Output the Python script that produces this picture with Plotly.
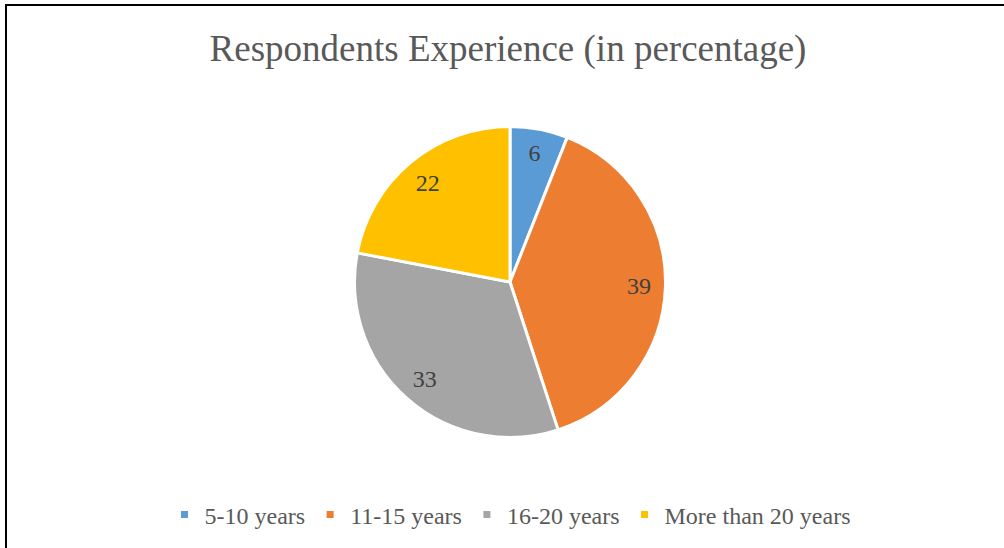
import plotly.graph_objects as go

# Respondents' years of experience, in percent
categories = ["5-10 years", "11-15 years", "16-20 years", "More than 20 years"]
shares = [6, 39, 33, 22]
colors = ["#5B9BD5", "#ED7D31", "#A5A5A5", "#FFC000"]

W, H = 1004, 548
serif = "Liberation Serif"

# pie centre and radius in pixels
cx, cy, r = 510, 282, 155.5
pie_domain = dict(x=[(cx - r) / W, (cx + r) / W],
                  y=[1 - (cy + r) / H, 1 - (cy - r) / H])

fig = go.Figure()
fig.add_trace(go.Pie(
    labels=categories,
    values=shares,
    sort=False,
    direction="clockwise",
    rotation=0,
    marker=dict(colors=colors, line=dict(color="white", width=3)),
    textinfo="none",
    showlegend=False,
    hoverinfo="label+value",
    domain=pie_domain,
))

# value labels sit in an outer ring of the same pie
fig.add_trace(go.Pie(
    labels=categories,
    values=shares,
    sort=False,
    direction="clockwise",
    rotation=0,
    hole=0.66,
    marker=dict(colors=["rgba(0,0,0,0)"] * len(shares), line=dict(width=0)),
    textinfo="value",
    textposition="inside",
    insidetextorientation="horizontal",
    textfont=dict(family=serif, size=24, color="#404040"),
    showlegend=False,
    hoverinfo="skip",
    domain=pie_domain,
))

# legend entries with small square keys
for name, col in zip(categories, colors):
    fig.add_trace(go.Scatter(
        x=[None], y=[None], mode="markers", name=name,
        marker=dict(symbol="square", size=7, color=col, line=dict(width=0)),
    ))

fig.update_layout(
    width=W, height=H,
    margin=dict(l=0, r=0, t=0, b=0),
    paper_bgcolor="white", plot_bgcolor="white",
    xaxis=dict(visible=False), yaxis=dict(visible=False),
    title=dict(text="Respondents Experience (in percentage)",
               x=508 / W, xanchor="center", y=1 - 48 / H, yanchor="middle",
               font=dict(family=serif, size=37, color="#595959")),
    legend=dict(orientation="h", x=510 / W, xanchor="center",
                y=1 - 515 / H, yanchor="middle",
                font=dict(family=serif, size=24, color="#595959"),
                bgcolor="rgba(0,0,0,0)"),
    shapes=[
        dict(type="line", xref="paper", yref="paper",
             x0=6 / W, x1=1, y0=1 - 5 / H, y1=1 - 5 / H,
             line=dict(color="black", width=2)),
        dict(type="line", xref="paper", yref="paper",
             x0=6 / W, x1=6 / W, y0=0, y1=1 - 4 / H,
             line=dict(color="black", width=2)),
    ],
)

fig.write_html("out.html")
